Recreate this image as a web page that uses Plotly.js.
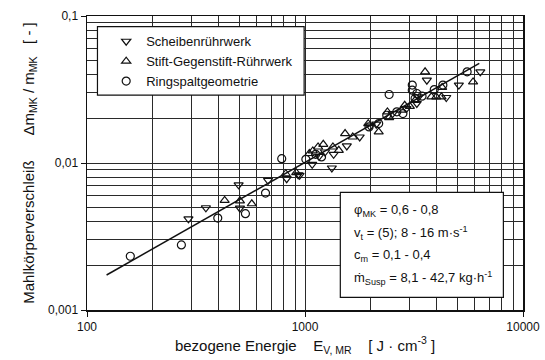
<!DOCTYPE html>
<html>
<head>
<meta charset="utf-8">
<script src="https://cdn.plot.ly/plotly-3.0.1.min.js"></script>
<style>html,body{margin:0;padding:0;background:#fff;}#chart{width:545px;height:360px;}</style>
</head>
<body>
<div id="chart"></div>
<script>
// Scheibenrührwerk (triangle down)
const scheibenX = [292, 351, 496, 503, 677, 824, 930, 944, 1079, 1160, 1235, 1328, 1353, 1555, 1782, 1987, 2123, 2523, 2919, 3258, 3319, 3622, 4446, 5078, 6370];
const scheibenY = [0.00417, 0.00496, 0.00711, 0.00493, 0.00762, 0.00782, 0.00832, 0.00824, 0.00979, 0.0111, 0.01188, 0.00925, 0.01146, 0.01306, 0.01503, 0.01778, 0.01837, 0.0217, 0.02345, 0.0254, 0.0282, 0.0366, 0.0279, 0.0339, 0.0417];
// Stift-Gegenstift-Rührwerk (triangle up)
const stiftX = [428, 503, 570, 816, 911, 1047, 1086, 1148, 1213, 1343, 1429, 1527, 1656, 1950, 2178, 2388, 2432, 2767, 2866, 3027, 3199, 3555, 3800, 4000, 4227, 4257, 5902];
const stiftY = [0.00556, 0.00553, 0.00528, 0.00845, 0.00859, 0.0116, 0.01208, 0.01285, 0.0134, 0.01285, 0.0122, 0.01585, 0.01503, 0.01853, 0.01626, 0.02228, 0.02038, 0.02286, 0.0247, 0.0243, 0.0267, 0.0417, 0.0282, 0.0282, 0.0282, 0.0327, 0.0356];
// Ringspaltgeometrie (circle)
const ringX = [158, 271, 398, 533, 659, 782, 1009, 1119, 1191, 1967, 2178, 2371, 2432, 2637, 2813, 3105, 3105, 3199, 3258, 3443, 3917, 4290, 5543];
const ringY = [0.00232, 0.00277, 0.00422, 0.00452, 0.00624, 0.0107, 0.0106, 0.01146, 0.011, 0.01759, 0.01853, 0.02113, 0.02924, 0.02228, 0.0217, 0.0339, 0.0313, 0.02748, 0.0297, 0.0285, 0.0316, 0.0339, 0.0417];
// Regression line
const fitX = [123, 6300];
const fitY = [0.00173, 0.0476];

const seriesNames = ['Scheibenrührwerk', 'Stift-Gegenstift-Rührwerk', 'Ringspaltgeometrie'];
const xTickVals = [100, 1000, 10000];
const xTickText = ['100', '1000', '10000'];
const yTickVals = [0.001, 0.01, 0.1];
const yTickText = ['0,001', '0,01', '0,1'];
const infoLines = [
  'φ<sub>MK</sub> = 0,6 - 0,8',
  'v<sub>t</sub> = (5); 8 - 16 m·s<sup>-1</sup>',
  'c<sub>m</sub> = 0,1 - 0,4',
  'ṁ<sub>Susp</sub> = 8,1 - 42,7 kg·h<sup>-1</sup>'
];

const FONT = 'Liberation Sans, Arial, Helvetica, sans-serif';
const mk = (sym) => ({symbol: sym, size: 8, color: '#111', line: {color: '#111', width: 1.2}});

const traces = [
  {x: fitX, y: fitY, mode: 'lines', line: {color: '#111', width: 1.5}, showlegend: false, hoverinfo: 'skip'},
  {x: scheibenX, y: scheibenY, mode: 'markers', name: seriesNames[0], marker: mk('triangle-down-open')},
  {x: stiftX, y: stiftY, mode: 'markers', name: seriesNames[1], marker: mk('triangle-up-open')},
  {x: ringX, y: ringY, mode: 'markers', name: seriesNames[2], marker: mk('circle-open')}
];

const gridCol = '#2a2a2a';
const annotations = infoLines.map((t, i) => ({
  xref: 'paper', yref: 'paper', x: 0.607, y: 0.338 - i * 0.076,
  xanchor: 'left', yanchor: 'middle', showarrow: false, text: t,
  font: {family: FONT, size: 13, color: '#111'}
}));

const layout = {
  width: 545, height: 360,
  margin: {l: 87, r: 22, t: 16, b: 50},
  paper_bgcolor: '#fff', plot_bgcolor: '#fff',
  font: {family: FONT, size: 12, color: '#111'},
  xaxis: {
    type: 'log', range: [2, 4],
    tickmode: 'array', tickvals: xTickVals, ticktext: xTickText,
    ticks: 'outside', ticklen: 5, tickcolor: '#111',
    showgrid: true, gridcolor: gridCol, gridwidth: 1,
    minor: {dtick: 'D1', showgrid: true, gridcolor: gridCol, gridwidth: 1, ticks: ''},
    showline: true, linecolor: '#111', linewidth: 1.5, mirror: true,
    zeroline: false,
    tickfont: {family: FONT, size: 12, color: '#111'},
    title: {text: 'bezogene Energie    E<sub>V, MR</sub>    [ J · cm<sup>-3</sup> ]', font: {family: FONT, size: 15, color: '#111'}, standoff: 7}
  },
  yaxis: {
    type: 'log', range: [-3, -1],
    tickmode: 'array', tickvals: yTickVals, ticktext: yTickText,
    ticks: 'outside', ticklen: 5, tickcolor: '#111',
    showgrid: true, gridcolor: gridCol, gridwidth: 1,
    minor: {dtick: 'D1', showgrid: true, gridcolor: gridCol, gridwidth: 1, ticks: ''},
    showline: true, linecolor: '#111', linewidth: 1.5, mirror: true,
    zeroline: false,
    tickfont: {family: FONT, size: 12, color: '#111'},
    title: {text: 'Mahlkörperverschleiß      Δm<sub>MK</sub> / m<sub>MK</sub>   [ - ]', font: {family: FONT, size: 15, color: '#111'}, standoff: 10}
  },
  showlegend: true,
  legend: {
    x: 0.044, y: 0.965, xanchor: 'left', yanchor: 'top',
    bgcolor: 'rgba(0,0,0,0)', borderwidth: 0,
    font: {family: FONT, size: 13, color: '#111'},
    tracegroupgap: 0
  },
  shapes: [
    {type: 'rect', xref: 'paper', yref: 'paper', x0: 0.024, x1: 0.498, y0: 0.731, y1: 0.964,
     fillcolor: '#fff', line: {color: '#111', width: 1.2}, layer: 'above'},
    {type: 'rect', xref: 'paper', yref: 'paper', x0: 0.581, x1: 0.955, y0: 0.043, y1: 0.400,
     fillcolor: '#fff', line: {color: '#111', width: 1.2}, layer: 'above'}
  ],
  annotations: annotations
};

Plotly.newPlot('chart', traces, layout, {displayModeBar: false, staticPlot: true});
</script>
</body>
</html>
